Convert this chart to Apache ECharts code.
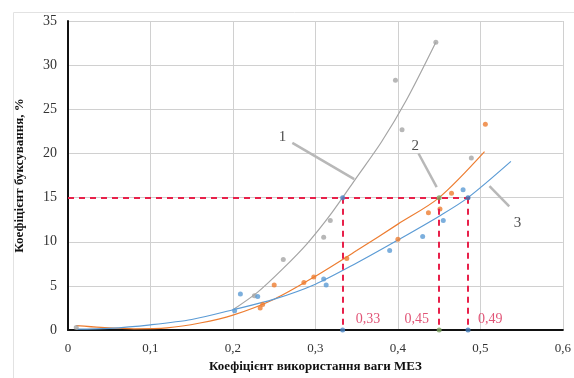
<!DOCTYPE html>
<html>
<head>
<meta charset="utf-8">
<script src="https://cdn.jsdelivr.net/npm/echarts@6/dist/echarts.min.js"></script>
<style>
  html, body { margin: 0; padding: 0; background: #fff; }
  #chart { width: 574px; height: 378px; }
</style>
</head>
<body>
<div id="chart"></div>
<script>
// scatter points
const grayPts = [[0.01, 0.3], [0.226, 3.9], [0.261, 8.0], [0.31, 10.5], [0.318, 12.4], [0.397, 28.3], [0.405, 22.7], [0.446, 32.6], [0.489, 19.5]];
const orangePts = [[0.233, 2.5], [0.236, 2.9], [0.25, 5.1], [0.286, 5.4], [0.298, 6.0], [0.338, 8.1], [0.4, 10.3], [0.437, 13.3], [0.451, 13.7], [0.465, 15.5], [0.506, 23.3]];
const bluePts = [[0.202, 2.2], [0.209, 4.1], [0.23, 3.8], [0.31, 5.8], [0.313, 5.1], [0.39, 9.0], [0.43, 10.6], [0.455, 12.4], [0.479, 15.9]];

// trend curves
const grayTrend = [[0.2, 2.3], [0.23, 4.3], [0.26, 6.9], [0.29, 9.8], [0.32, 13.3], [0.35, 17.3], [0.38, 21.3], [0.41, 26.0], [0.446, 32.6]];
const orangeTrend = [[0.01, 0.5], [0.04, 0.3], [0.08, 0.15], [0.12, 0.25], [0.16, 0.8], [0.2, 1.7], [0.25, 3.5], [0.3, 6.1], [0.35, 9.0], [0.4, 12.0], [0.45, 15.0], [0.505, 20.2]];
const blueTrend = [[0.01, 0.1], [0.05, 0.2], [0.1, 0.6], [0.15, 1.2], [0.2, 2.3], [0.25, 3.5], [0.3, 5.2], [0.35, 7.6], [0.4, 10.2], [0.45, 12.9], [0.485, 15.0], [0.537, 19.1]];

// red reference lines
const slipLevel = 15;
const crossX = [0.333, 0.45, 0.485];
const crossLabels = ['0,33', '0,45', '0,49'];
const crossColors = ['#4a86c5', '#7aa060', '#3f78b8'];
const crossLabelX = [0.349, 0.408, 0.497];
const crossLabelY = 1.2;

// curve annotations: text, text position, leader from, leader to
const annoText = ['1', '2', '3'];
const annoPos = [[0.26, 21.9], [0.421, 20.8], [0.545, 12.1]];
const annoFrom = [[0.272, 21.2], [0.425, 20.0], [0.511, 16.3]];
const annoTo = [[0.347, 17.1], [0.447, 16.2], [0.535, 14.0]];

const serif = '"Liberation Serif", "DejaVu Serif", serif';
const chart = echarts.init(document.getElementById('chart'));

const redLines = [[{ coord: [0, slipLevel] }, { coord: [0.49, slipLevel] }]]
  .concat(crossX.map(x => [{ coord: [x, slipLevel] }, { coord: [x, 0] }]));

const trendLine = (data, color) => ({
  type: 'line', data: data, smooth: 0.3, symbol: 'none',
  lineStyle: { color: color, width: 1.2 }, z: 3
});

const option = {
  animation: false,
  textStyle: { fontFamily: serif },
  graphic: [{
    type: 'rect', left: 11, top: 10, z: -10,
    shape: { width: 600, height: 366 },
    style: { fill: 'none', stroke: '#e2e2e2', lineWidth: 1 }
  }],
  grid: { left: 68, top: 21, right: 4, bottom: 46 },
  xAxis: {
    type: 'value', min: 0, max: 0.6, interval: 0.1,
    name: 'Коефіцієнт використання ваги МЕЗ',
    nameLocation: 'middle', nameGap: 27,
    nameTextStyle: { fontFamily: serif, fontWeight: 'bold', fontSize: 13, color: '#111' },
    axisLine: { onZero: false, lineStyle: { color: '#111', width: 2 } },
    axisTick: { show: false },
    axisLabel: {
      color: '#333', fontSize: 13, fontFamily: serif, margin: 12,
      formatter: v => v === 0 ? '0' : v.toFixed(1).replace('.', ',')
    },
    splitLine: { show: true, lineStyle: { color: '#d0d0d0', width: 1 } }
  },
  yAxis: {
    type: 'value', min: 0, max: 35, interval: 5,
    name: 'Коефіцієнт буксування, %',
    nameLocation: 'middle', nameGap: 42,
    nameTextStyle: { fontFamily: serif, fontWeight: 'bold', fontSize: 13, color: '#111' },
    axisLine: { show: true, lineStyle: { color: '#111', width: 2 } },
    axisTick: { show: false },
    axisLabel: { color: '#333', fontSize: 14, fontFamily: serif, margin: 11 },
    splitLine: { show: true, lineStyle: { color: '#d0d0d0', width: 1 } }
  },
  series: [
    trendLine(grayTrend, '#a5a5a5'),
    trendLine(orangeTrend, '#ed7d31'),
    trendLine(blueTrend, '#5b9bd5'),
    { type: 'scatter', data: grayPts, symbolSize: 5, itemStyle: { color: '#a5a5a5' }, z: 4 },
    { type: 'scatter', data: orangePts, symbolSize: 5, itemStyle: { color: '#ed7d31' }, z: 4 },
    { type: 'scatter', data: bluePts, symbolSize: 5, itemStyle: { color: '#5b9bd5' }, z: 4 },
    {
      // red dashed reference lines
      type: 'line', data: [], z: 5,
      markLine: {
        silent: true, symbol: 'none', label: { show: false },
        lineStyle: { color: '#e8204a', width: 2, type: [6, 5] },
        data: redLines
      }
    },
    {
      // markers where the red lines meet the curves and the x axis
      type: 'scatter', symbolSize: 5, z: 6,
      data: crossX.flatMap((x, i) => [
        { value: [x, slipLevel], itemStyle: { color: crossColors[i] } },
        { value: [x, 0], itemStyle: { color: crossColors[i] } }
      ])
    },
    {
      // red value labels
      type: 'scatter', symbolSize: 0, z: 6,
      data: crossLabelX.map((x, i) => ({ value: [x, crossLabelY], name: crossLabels[i] })),
      label: {
        show: true, position: 'right', distance: 0,
        formatter: p => p.name,
        color: '#d92a55', fontSize: 14, fontFamily: serif
      }
    },
    {
      // curve number leaders
      type: 'line', data: [], z: 2,
      markLine: {
        silent: true, symbol: 'none', label: { show: false },
        lineStyle: { color: '#b8b8b8', width: 2.5, type: 'solid' },
        data: annoFrom.map((p, i) => [{ coord: p }, { coord: annoTo[i] }])
      }
    },
    {
      type: 'scatter', symbolSize: 0, z: 6,
      data: annoPos.map((p, i) => ({ value: p, name: annoText[i] })),
      label: {
        show: true, position: 'inside',
        formatter: p => p.name,
        color: '#222', fontSize: 15, fontFamily: serif
      }
    }
  ]
};
chart.setOption(option);
</script>
</body>
</html>
